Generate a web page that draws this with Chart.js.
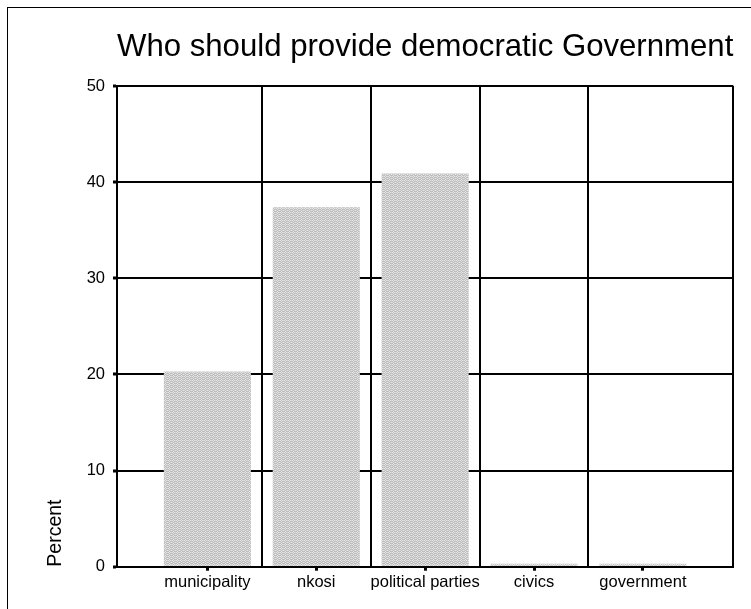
<!DOCTYPE html>
<html>
<head>
<meta charset="utf-8">
<title>Who should provide democratic Government</title>
<script src="https://cdn.jsdelivr.net/npm/chart.js@4.4.1/dist/chart.umd.min.js"></script>
<style>
  html, body { margin: 0; padding: 0; background: #fff; overflow: hidden; }
  #wrap { position: relative; width: 751px; height: 609px; overflow: hidden; }
  #frame { position: absolute; left: 7px; top: 7px; width: 800px; height: 700px; border: 1px solid #000; }
  #chart { position: absolute; left: 0; top: 0; }
</style>
</head>
<body>
<div id="wrap">
  <div id="frame"></div>
  <canvas id="chart" width="751" height="609"></canvas>
</div>
<script>
  const titulo = 'Who should provide democratic Government';
  const categorias = ['municipality', 'nkosi', 'political parties', 'civics', 'government'];
  const percentuais = [20.3, 37.4, 40.9, 0.3, 0.3];
  const yTicks = [0, 10, 20, 30, 40, 50];
  const tituloY = 'Percent';

  const FONTE = "'Liberation Sans', Arial, sans-serif";

  /* ── padrão cinza das barras ── */
  function criarPadrao() {
    const c = document.createElement('canvas');
    c.width = 4; c.height = 4;
    const g = c.getContext('2d');
    g.fillStyle = '#bdbdbd';
    g.fillRect(0, 0, 4, 4);
    g.fillStyle = '#e6e6e6';
    [[0, 0], [2, 0], [1, 1], [3, 2], [1, 3]].forEach(([x, y]) => g.fillRect(x, y, 1, 1));
    g.fillStyle = '#d2d2d2';
    [[3, 0], [0, 2], [2, 2]].forEach(([x, y]) => g.fillRect(x, y, 1, 1));
    return g.createPattern(c, 'repeat');
  }

  // faixa extra nas pontas do eixo x (como no original)
  const xMin = -0.83;
  const xMax = categorias.length - 1 + 0.83;

  new Chart(document.getElementById('chart'), {
    type: 'bar',
    data: {
      datasets: [{
        label: tituloY,
        data: percentuais.map((v, i) => ({ x: i, y: v })),
        backgroundColor: criarPadrao(),
        borderWidth: 0,
        barPercentage: 0.8,
        categoryPercentage: 1.0,
        xAxisID: 'x',
        yAxisID: 'y'
      }]
    },
    options: {
      responsive: false,
      devicePixelRatio: 1,
      animation: false,
      layout: { padding: { top: 0, left: 0, right: 17.7, bottom: 12.3 } },
      plugins: {
        legend: { display: false },
        tooltip: { enabled: false },
        title: {
          display: true,
          text: titulo,
          fullSize: false,
          color: '#000',
          font: { family: FONTE, size: 31.5, weight: 'normal' },
          padding: { top: 28, bottom: 20.2 }
        }
      },
      scales: {
        x: {
          type: 'linear',
          position: 'bottom',
          min: xMin,
          max: xMax,
          offset: false,
          afterBuildTicks: s => { s.ticks = categorias.map((_, i) => ({ value: i })); },
          afterFit: s => { s.height = 30; },
          ticks: {
            color: '#000',
            font: { family: FONTE, size: 16.5 },
            padding: 2,
            autoSkip: false,
            maxRotation: 0,
            callback: v => categorias[v]
          },
          grid: { offset: false, drawOnChartArea: false, drawTicks: true, tickLength: 4, tickWidth: 3, tickColor: '#000' },
          border: { display: true, color: '#000', width: 2 }
        },
        xg: {
          type: 'linear',
          position: 'top',
          min: xMin,
          max: xMax,
          offset: false,
          afterBuildTicks: s => {
            const t = categorias.slice(1).map((_, i) => ({ value: i + 0.5 }));
            t.push({ value: xMax });
            s.ticks = t;
          },
          afterFit: s => { s.height = 0; },
          ticks: { display: false },
          grid: { offset: false, drawOnChartArea: true, drawTicks: false, color: '#000', lineWidth: 2 },
          border: { display: false }
        },
        y: {
          min: 0,
          max: 50,
          afterBuildTicks: s => { s.ticks = yTicks.map(v => ({ value: v })); },
          afterFit: s => { s.width = 117; },
          ticks: {
            color: '#000',
            font: { family: FONTE, size: 16.5 },
            padding: 8
          },
          title: {
            display: true,
            text: tituloY,
            align: 'start',
            color: '#000',
            font: { family: FONTE, size: 19.5 },
            padding: { top: 44, bottom: 0 }
          },
          grid: { color: '#000', lineWidth: 2, drawTicks: true, tickLength: 4, tickWidth: 3, tickColor: '#000' },
          border: { display: true, color: '#000', width: 2 }
        }
      }
    }
  });
</script>
</body>
</html>
